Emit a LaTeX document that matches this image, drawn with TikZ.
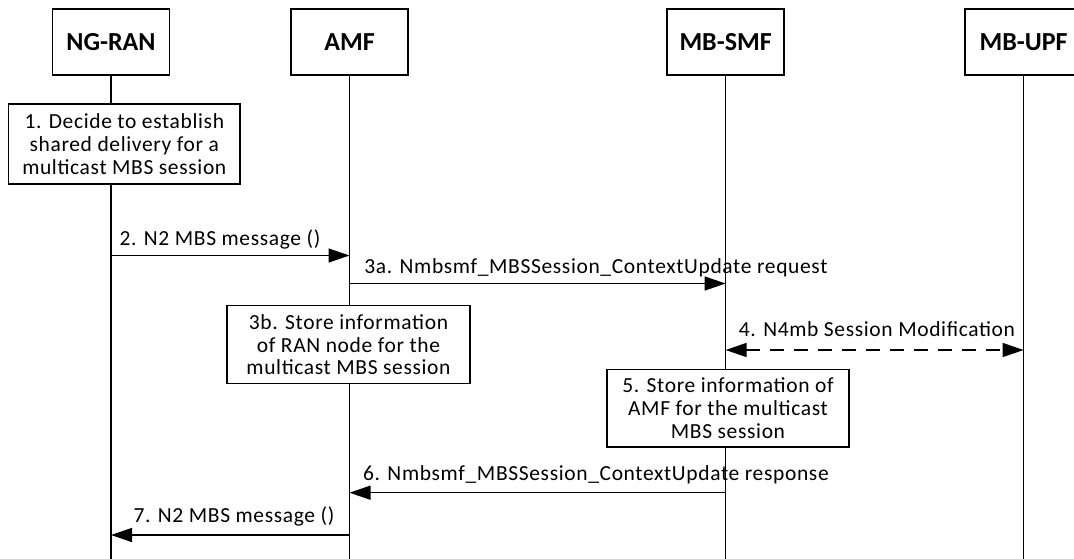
\documentclass[tikz,border=0pt]{standalone}
\usepackage{fontspec}
\setmainfont{Carlito}
\newfontfamily\bodyfont{Carlito}[LetterSpace=3]
\usetikzlibrary{arrows.meta}
\tikzset{
  head/.style={draw, line width=1.3pt, minimum width=117pt, minimum height=66pt, inner sep=0pt, font=\fontsize{26}{28}\selectfont\bfseries},
  actbox/.style={draw, line width=1.3pt, inner sep=0pt, align=center, font=\bodyfont\fontsize{21.5}{22.8}\selectfont},
  life/.style={line width=1.3pt},
  msg/.style={line width=1.4pt, -{Triangle[length=21pt,width=14pt]}},
  dmsg/.style={line width=1.4pt, {Triangle[length=21pt,width=14pt]}-{Triangle[length=21pt,width=14pt]}, dash pattern=on 14pt off 10pt},
  lbl/.style={anchor=base, inner sep=0pt, font=\bodyfont\fontsize{21.5}{22.8}\selectfont}
}
\begin{document}
\begin{tikzpicture}[x=1pt,y=-1pt]
\useasboundingbox (0,0) rectangle (1074,558);
\clip (0,0) rectangle (1074,558);
\fill[white] (0,0) rectangle (1074,558);
% headers
\node[head] (ran) at (111,42) {NG-RAN};
\node[head] (amf) at (349.5,42) {AMF};
\node[head] (smf) at (725.6,42) {MB-SMF};
\node[head] (upf) at (1023.6,42) {MB-UPF};
% lifeline ends
\coordinate (ranE) at (111,560);
\coordinate (amfE) at (349.5,560);
\coordinate (smfE) at (725.6,560);
\coordinate (upfE) at (1023.6,560);
\draw[life] (ran.south) -- (ranE);
\draw[life] (amf.south) -- (amfE);
\draw[life] (smf.south) -- (smfE);
\draw[life] (upf.south) -- (upfE);
% action boxes
\node[actbox, fill=white, minimum width=231.4pt, minimum height=80pt] (b1) at (124.3,144) {1. Decide to establish\\shared delivery for a\\multicast MBS session};
\node[actbox, fill=white, minimum width=243pt, minimum height=78pt] (b3b) at (348.5,344.7) {3b. Store information\\of RAN node for the\\multicast MBS session};
\node[actbox, fill=white, minimum width=242pt, minimum height=77.3pt] (b5) at (728,408.4) {5. Store information of\\AMF for the multicast\\MBS session};
% message points
\coordinate (r2) at (111,255.5);   \coordinate (a2) at (349.5,255.5);
\coordinate (a3) at (349.5,283.5);   \coordinate (s3) at (725.6,283.5);
\coordinate (s4) at (725.6,350);   \coordinate (u4) at (1023.6,350);
\coordinate (s6) at (725.6,492.7); \coordinate (a6) at (349.5,492.7);
\coordinate (a7) at (349.5,535);   \coordinate (r7) at (111,535);
\draw[msg] (r2) -- (a2);
\draw[msg] (a3) -- (s3);
\draw[dmsg] (s4) -- (u4);
\draw[msg] (s6) -- (a6);
\draw[msg] (a7) -- (r7);
% labels
\node[lbl] (l2) at (220,245) {2. N2 MBS message ()};
\node[lbl] (l3) at (596,273.3) {3a. Nmbsmf\_MBSSession\_ContextUpdate request};
\node[lbl] (l4) at (877,336) {4. N4mb Session Modification};
\node[lbl] (l6) at (596,480) {6. Nmbsmf\_MBSSession\_ContextUpdate response};
\node[lbl] (l7) at (234,522.7) {7. N2 MBS message ()};
\end{tikzpicture}
\end{document}
